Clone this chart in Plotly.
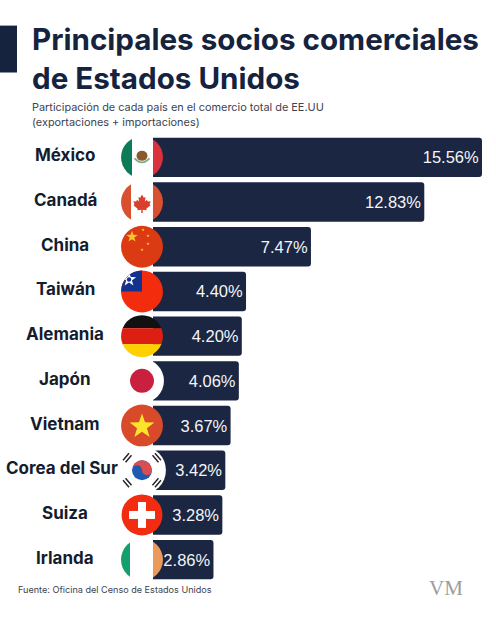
import base64
import math
import plotly.graph_objects as go

W, H = 496, 618
# area de barras en pixeles
X0, X1 = 153, 482
Y0, Y1 = 134.6, 582.4

countries = ["México", "Canadá", "China", "Taiwán", "Alemania", "Japón", "Vietnam",
             "Corea del Sur", "Suiza", "Irlanda"]
shares = [15.56, 12.83, 7.47, 4.40, 4.20, 4.06, 3.67, 3.42, 3.28, 2.86]

NAVY = "#1a2642"
TITLE = "#15233f"


def px(x):
    return (x - X0) / (X1 - X0)


def py(y):
    return (Y1 - y) / (Y1 - Y0)


def star(cx, cy, r, fill):
    pts = []
    for i in range(10):
        rad = r if i % 2 == 0 else r * 0.4
        a = -math.pi / 2 + i * math.pi / 5
        pts.append(f"{cx + rad * math.cos(a):.2f},{cy + rad * math.sin(a):.2f}")
    return f'<polygon points="{" ".join(pts)}" fill="{fill}"/>'


def rect(x, y, w, h, fill):
    return f'<rect x="{x}" y="{y}" width="{w}" height="{h}" fill="{fill}"/>'


# banderas: dibujadas en una caja de 48x48 con centro en 24,24
trigram = ('<g stroke="#222" stroke-width="1.4">'
           '<path d="M5 14 L11 7 M7.5 16 L13.5 9"/><path d="M43 14 L37 7 M40.5 16 L34.5 9"/>'
           '<path d="M5 34 L11 41 M7.5 32 L13.5 39"/><path d="M43 34 L37 41 M40.5 32 L34.5 39"/></g>')
leaf = ('<g transform="translate(24 25) scale(0.72) translate(-24 -25)">'
        '<polygon fill="#d8402c" points="24,13 26.5,17.5 29,16.5 28,23 31,20.5 32,23 36,22.5 34.5,27 '
        '36,28 30,33 30.5,35 25,34.3 25,39 23,39 23,34.3 17.5,35 18,33 12,28 13.5,27 12,22.5 16,23 '
        '17,20.5 20,23 19,16.5 21.5,17.5"/></g>')
sun = "".join(star(11, 12, 7.5, "#fff") for _ in range(1))
flags = {
    "México": rect(0, 0, 14, 48, "#0d7a58") + rect(14, 0, 21, 48, "#fff") + rect(35, 0, 13, 48, "#d9323c")
    + '<ellipse cx="24" cy="22.5" rx="5.5" ry="5" fill="#8a5a2b"/>'
    + '<path d="M16.5 25 Q24 33 31.5 25" fill="none" stroke="#7faa8a" stroke-width="1.8"/>',
    "Canadá": rect(0, 0, 13, 48, "#d8502f") + rect(13, 0, 22, 48, "#fff") + rect(35, 0, 13, 48, "#d8502f") + leaf,
    "China": rect(0, 0, 48, 48, "#dc3a12") + star(14, 14, 6, "#fbc52e") + star(25, 7, 1.8, "#fbc52e")
    + star(30, 13, 1.8, "#fbc52e") + star(30, 21, 1.8, "#fbc52e") + star(24, 27, 1.8, "#fbc52e"),
    "Taiwán": rect(0, 0, 48, 48, "#f22c0c") + rect(0, 0, 24, 24, "#13328f")
    + sun + '<circle cx="11" cy="12" r="2.2" fill="#13328f"/>',
    "Alemania": rect(0, 0, 48, 16, "#111") + rect(0, 16, 48, 16, "#dc1f12") + rect(0, 32, 48, 16, "#fed000"),
    "Japón": rect(0, 0, 48, 48, "#fff") + '<circle cx="24" cy="24" r="12" fill="#c9203f"/>',
    "Vietnam": rect(0, 0, 48, 48, "#d94a2b") + star(24, 25, 13, "#fbe42a"),
    "Corea del Sur": rect(0, 0, 48, 48, "#fff") + trigram
    + '<circle cx="24" cy="24" r="10" fill="#1e5ab0"/>'
    + '<path d="M14 24 A10 10 0 0 1 34 24 A5 5 0 0 1 24 24 A5 5 0 0 0 14 24 Z" fill="#d94f4f"/>',
    "Suiza": rect(0, 0, 48, 48, "#f22c10") + rect(20, 11, 8, 26, "#fff") + rect(11, 20, 26, 8, "#fff"),
    "Irlanda": rect(0, 0, 12, 48, "#13a06c") + rect(12, 0, 23, 48, "#fff") + rect(35, 0, 13, 48, "#ec9a5a"),
}


def flag_uri(name):
    r = {"Japón": 22, "Corea del Sur": 24, "Suiza": 20.5}.get(name, 21)
    svg = (f'<svg xmlns="http://www.w3.org/2000/svg" width="192" height="192" viewBox="0 0 48 48">'
           f'<defs><clipPath id="c"><circle cx="24" cy="24" r="{r}"/></clipPath></defs>'
           f'<g clip-path="url(#c)">{flags[name]}</g></svg>')
    return "data:image/svg+xml;base64," + base64.b64encode(svg.encode()).decode()


fig = go.Figure(go.Bar(
    x=shares,
    y=countries,
    orientation="h",
    marker=dict(color=NAVY, cornerradius=3, line=dict(width=0)),
    texttemplate="%{x:.2f}%",
    textposition="inside",
    insidetextanchor="end",
    textangle=0,
    textfont=dict(family="Liberation Sans", size=16.5, color="#f4f5f7"),
    hoverinfo="skip",
))

# etiquetas de pais y banderas
annotations = []
images = []
for name in countries:
    annotations.append(dict(x=px(62 if name == "Corea del Sur" else 65), xref="paper", y=name, yref="y",
                            text=name, showarrow=False, xanchor="center", yanchor="middle", yshift=2,
                            font=dict(family="Inter", size=17, weight=700, color="#141c2e")))
    images.append(dict(source=flag_uri(name), xref="paper", yref="y", x=px(142), y=name,
                       sizex=48 / (X1 - X0), sizey=48 / 44.78, xanchor="center", yanchor="middle",
                       sizing="contain", layer="above"))


def label(x, y, text, size, color, weight=400, family="Inter", anchor="left"):
    annotations.append(dict(x=px(x), y=py(y), xref="paper", yref="paper", text=text, showarrow=False,
                            xanchor=anchor, yanchor="middle",
                            font=dict(family=family, size=size, weight=weight, color=color)))


label(30, 38, "Principales socios comerciales", 29.6, TITLE, 700)
label(30, 77, "de Estados Unidos", 29.6, TITLE, 700)
label(29.5, 107, "Participación de cada país en el comercio total de EE.UU", 10.9, "#3d4350")
label(29.5, 121.5, "(exportaciones + importaciones)", 10.9, "#3d4350")
label(15.5, 590, "Fuente: Oficina del Censo de Estados Unidos", 9.1, "#3d4350")
label(446, 588, "VM", 21, "#9a9da0", family="Liberation Serif", anchor="center")

fig.update_layout(
    width=W,
    height=H,
    margin=dict(l=X0, r=W - X1, t=Y0, b=H - Y1, pad=0),
    paper_bgcolor="white",
    plot_bgcolor="white",
    showlegend=False,
    bargap=0.118,
    annotations=annotations,
    images=images,
    shapes=[dict(type="rect", xref="paper", yref="paper", x0=px(0), x1=px(17), y0=py(72), y1=py(25),
                 fillcolor=TITLE, line=dict(width=0))],
)
fig.update_xaxes(range=[0, 15.56], visible=False)
fig.update_yaxes(categoryorder="array", categoryarray=countries, range=[9.5, -0.5], visible=False)

fig.write_html("out.html", config={"displayModeBar": False},
               post_script="document.body.style.margin='0';")
